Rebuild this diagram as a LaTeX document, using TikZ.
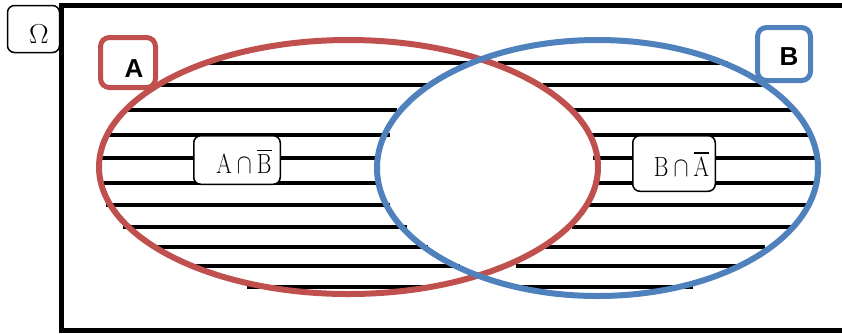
\documentclass[tikz,border=0pt]{standalone}
\usepackage{fontspec}
\usepackage{graphicx}
\usepackage{amsmath}
\usetikzlibrary{positioning}
\newfontfamily\setfont{Liberation Sans}
\definecolor{SetRed}{RGB}{192, 80, 77}
\definecolor{SetBlue}{RGB}{79, 129, 189}

\tikzset{
  hatch/.style={line width=3.4pt},
  setbox/.style={draw, rounded corners=9pt, fill=white, line width=5pt, inner sep=0pt},
  partbox/.style={draw, rounded corners=7pt, fill=white, line width=1.5pt, inner sep=0pt},
  mathtxt/.style={font=\fontsize{24.88}{26}\selectfont, inner sep=0pt},
}

\begin{document}
\begin{tikzpicture}[x=1pt, y=-1pt]
      \clip (0,0) rectangle (842,333);

      % Omega label
      \node[partbox, minimum width=52pt, minimum height=47pt] (omega) at (33.5,29) {};
      \node[mathtxt] (omegatxt) at (39,34) {\scalebox{1.18}[1.1]{$\Omega$}};

      % Universe
      \draw[line width=5pt] (61,5) rectangle (870,330);

      % Hatching
      \foreach \y/\xa/\xb/\xc/\xd in {63/205/470/498/728, 85/157/428/543/765,
                                      110/123/397/572/793, 135/106/390/588/810,
                                      158/101/378/593/817, 183/101/378/593/817,
                                      205/106/390/588/810, 227/123/407/572/793,
                                      247/157/428/543/765, 266/193/460/516/738,
                                      287/247/434/516/693} {
        \draw[hatch] (\xa,\y) -- (\xb,\y) (\xc,\y) -- (\xd,\y);
      }

      % Sets
      \draw[SetRed, line width=6pt] (348.5,167) ellipse [x radius=249.5, y radius=127];
      \draw[SetBlue, line width=6pt] (597.5,168) ellipse [x radius=220.5, y radius=128];

      % Set labels
      \node[setbox, draw=SetRed, minimum width=55pt, minimum height=50pt] (labela) at (128,62.5) {};
      \node[font=\setfont\bfseries\fontsize{26}{26}\selectfont, inner sep=0pt] (labelatxt) at (134,69) {A};
      \node[setbox, draw=SetBlue, minimum width=53pt, minimum height=53pt] (labelb) at (784,54) {};
      \node[font=\setfont\bfseries\fontsize{26}{26}\selectfont, inner sep=0pt] (labelbtxt) at (789,57) {B};

      % Part labels
      \node[partbox, minimum width=86.5pt, minimum height=48.5pt] (aonly) at (237,160) {};
      \node[mathtxt] (aonlytxt) at (244,161)
        {\scalebox{0.9}[1.12]{$\mathrm{A}\cap\overline{\mathrm{B}}$}};
      \node[partbox, minimum width=82.5pt, minimum height=55.5pt] (bonly) at (674,163.5) {};
      \node[mathtxt] (bonlytxt) at (681.5,164)
        {\scalebox{0.9}[1.12]{$\mathrm{B}\cap\overline{\mathrm{A}}$}};
\end{tikzpicture}
\end{document}
